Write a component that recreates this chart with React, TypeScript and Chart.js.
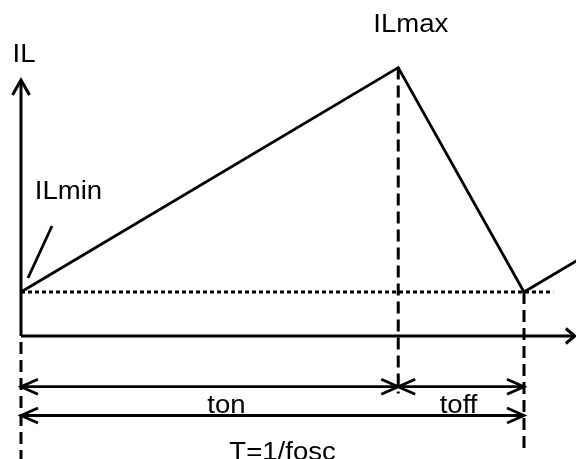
import React, { useEffect, useRef } from "react";
import { Chart, registerables } from "chart.js";

Chart.register(...registerables);

// Time axis: T = 1/fosc = 10 units, ton = 7.5, toff = 2.5
const timeMarks = [0, 7.5, 10]; // start, ton, T
const currentLevels = [1, 6.1]; // ILmin, ILmax

// Inductor current waveform (continues into the next period)
const waveTimes = [0, 7.5, 10, 17.5];
const waveCurrents = [1, 6.1, 1, 6.1];

// Visible window of the diagram (data units)
const xRange = [-0.4175, 11.034];
const yRange = [-2.795, 7.636];

// Axes extents
const axisYTop = 5.818;
const axisXRight = 11.01;

// Dotted ILmin reference ends at
const dottedEnd = 10.58;

// Dashed verticals: bottom ends
const dashBottoms = [-2.8, -1.307, -2.545];

// Dimension arrow rows (ton/toff row, T row)
const dimRowY = [-1.152, -1.807];

// ILmin pointer line
const pointerX = [0.616, 0.139];
const pointerY = [2.5, 1.318];

// Text labels
const labelTexts = ["IL", "ILmax", "ILmin", "ton", "toff", "T=1/fosc"];
const labelX = [0.06, 7.75, 0.944, 4.085, 8.7, 5.2];
const labelY = [6.227, 6.909, 3.114, -1.75, -1.75, -2.82];

const pts = (xs: number[], ys: number[]) => xs.map((x, i) => ({ x, y: ys[i] }));

const arrowPlugin = {
  id: "arrowHeads",
  afterDatasetsDraw(chart: any) {
    const ctx = chart.ctx;
    chart.data.datasets.forEach((ds: any, i: number) => {
      if (!ds.arrowStart && !ds.arrowEnd) return;
      const meta = chart.getDatasetMeta(i);
      const p = meta.data;
      if (p.length < 2) return;
      const len = ds.arrowLen ?? 17;
      const half = ds.arrowHalf ?? 7.5;
      const draw = (tip: any, from: any) => {
        const dx = tip.x - from.x;
        const dy = tip.y - from.y;
        const d = Math.hypot(dx, dy) || 1;
        const ux = dx / d, uy = dy / d;
        const nx = -uy, ny = ux;
        ctx.save();
        ctx.strokeStyle = "#000";
        ctx.lineWidth = ds.borderWidth ?? 2.5;
        ctx.setLineDash([]);
        ctx.lineJoin = "miter";
        ctx.beginPath();
        ctx.moveTo(tip.x - ux * len + nx * half, tip.y - uy * len + ny * half);
        ctx.lineTo(tip.x, tip.y);
        ctx.lineTo(tip.x - ux * len - nx * half, tip.y - uy * len - ny * half);
        ctx.stroke();
        ctx.restore();
      };
      if (ds.arrowStart) draw(p[0], p[1]);
      if (ds.arrowEnd) draw(p[p.length - 1], p[p.length - 2]);
    });
  },
};

const labelPlugin = {
  id: "diagramLabels",
  afterDraw(chart: any) {
    const ctx = chart.ctx;
    const xs = chart.scales.x;
    const ys = chart.scales.y;
    ctx.save();
    ctx.fillStyle = "#000";
    ctx.font = '26px "Liberation Sans", Arial, sans-serif';
    ctx.textAlign = "center";
    ctx.textBaseline = "alphabetic";
    labelTexts.forEach((t, i) => {
      const px = xs.getPixelForValue(labelX[i]);
      const py = ys.getPixelForValue(labelY[i]);
      ctx.save();
      ctx.translate(px, py);
      ctx.scale(1.06, 1);
      ctx.fillText(t, 0, 0);
      ctx.restore();
    });
    ctx.restore();
  },
};

export default function App() {
  const ref = useRef<HTMLCanvasElement | null>(null);

  useEffect(() => {
    document.body.style.margin = "0";
    if (!ref.current) return;
    const [t0, tOn, tP] = timeMarks;
    const [ilMin, ilMax] = currentLevels;
    const base = {
      borderColor: "#000",
      borderWidth: 2.8,
      pointRadius: 0,
      showLine: true,
      tension: 0,
      fill: false,
    };
    const datasets: any[] = [
      // y axis
      { ...base, borderWidth: 3, data: pts([t0, t0], [0, axisYTop]), arrowEnd: true, arrowLen: 15, arrowHalf: 8.5 },
      // x axis
      { ...base, borderWidth: 3, data: pts([t0, axisXRight], [0, 0]), arrowEnd: true, arrowLen: 9, arrowHalf: 7.5 },
      // dotted ILmin level
      { ...base, borderWidth: 3, borderDash: [4, 3], data: pts([t0, dottedEnd], [ilMin, ilMin]) },
      // dashed verticals
      { ...base, borderWidth: 3, borderDash: [12, 6], borderDashOffset: 12, data: pts([t0, t0], [0, dashBottoms[0]]) },
      { ...base, borderWidth: 3, borderDash: [12, 6], data: pts([tOn, tOn], [ilMax, dashBottoms[1]]) },
      { ...base, borderWidth: 3, borderDash: [12, 6], data: pts([tP, tP], [ilMin, dashBottoms[2]]) },
      // waveform
      { ...base, data: pts(waveTimes, waveCurrents) },
      // ILmin pointer
      { ...base, data: pts(pointerX, pointerY) },
      // ton arrow
      { ...base, data: pts([t0, tOn], [dimRowY[0], dimRowY[0]]), arrowStart: true, arrowEnd: true },
      // toff arrow
      { ...base, data: pts([tOn, tP], [dimRowY[0], dimRowY[0]]), arrowStart: true, arrowEnd: true },
      // T arrow
      { ...base, data: pts([t0, tP], [dimRowY[1], dimRowY[1]]), arrowStart: true, arrowEnd: true },
    ];
    const chart = new Chart(ref.current, {
      type: "scatter",
      data: { datasets },
      options: {
        animation: false,
        responsive: true,
        maintainAspectRatio: false,
        layout: { padding: 0 },
        plugins: { legend: { display: false }, tooltip: { enabled: false } },
        events: [],
        scales: {
          x: { type: "linear", min: xRange[0], max: xRange[1], display: false },
          y: { type: "linear", min: yRange[0], max: yRange[1], display: false },
        },
      },
      plugins: [arrowPlugin, labelPlugin],
    });
    return () => chart.destroy();
  }, []);

  return (
    <div style={{ position: "fixed", left: 0, top: 0, width: 576, height: 459, background: "#fff" }}>
      <canvas ref={ref} />
    </div>
  );
}
